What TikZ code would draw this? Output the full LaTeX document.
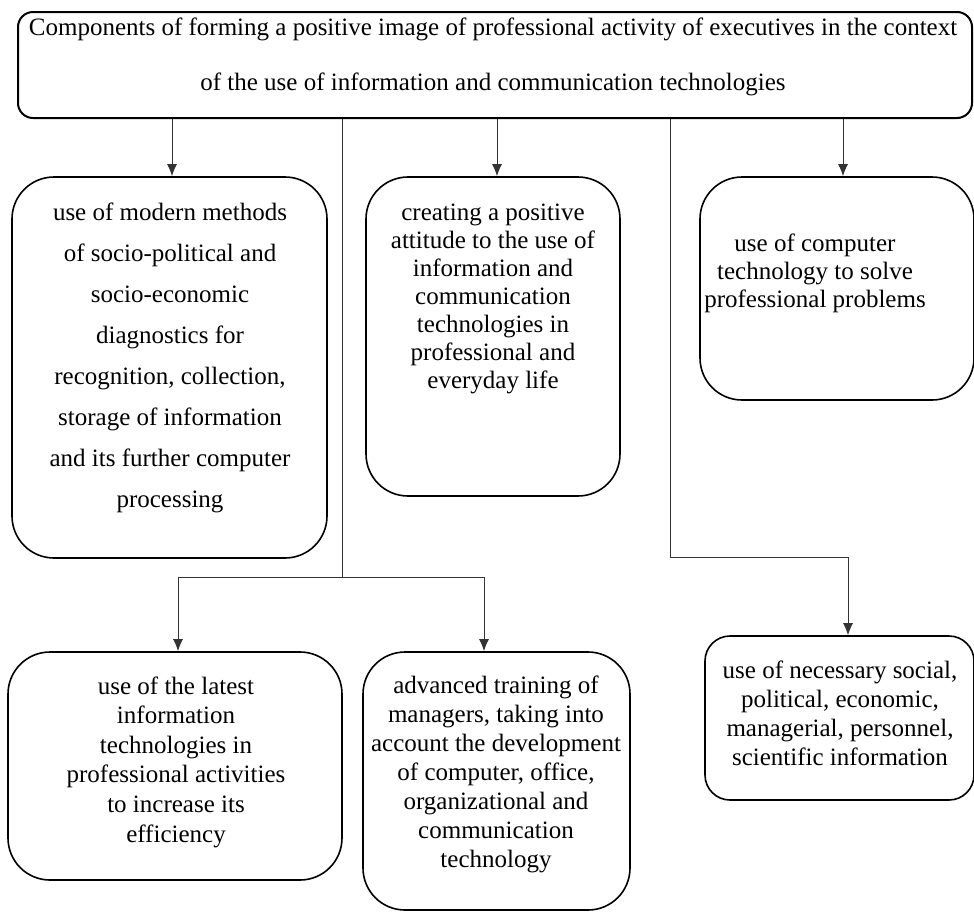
\documentclass[tikz,border=0pt]{standalone}
\usepackage{fontspec}
\setmainfont{Liberation Serif}
\usetikzlibrary{arrows.meta}

\begin{document}
\begin{tikzpicture}[x=1pt, y=-1pt,
	card/.style={draw, line width=1.6pt, rounded corners=42pt, inner sep=0pt},
	txt/.style={align=center, font=\fontsize{25}{29}\selectfont},
	link/.style={draw=black!80, line width=1pt},
	arr/.style={draw=black!80, line width=1pt, -{Latex[length=12pt,width=10pt]}}]
	\useasboundingbox (0,0) rectangle (974,911);
	% header
	\node[card, line width=2pt, rounded corners=15pt, minimum width=954, minimum height=106] (title) at (495,65) {};
	\node[txt, font=\fontsize{25}{55}\selectfont] (titleT) at (493,57) {Components of forming a positive image of professional activity of executives in the context\\of the use of information and communication technologies};
	% first row
	\node[card, minimum width=315, minimum height=381] (modern) at (169.5,367.5) {};
	\node[txt, font=\fontsize{25}{41}\selectfont] (modernT) at (170,358) {use of modern methods\\of socio-political and\\socio-economic\\diagnostics for\\recognition, collection,\\storage of information\\and its further computer\\processing};
	\node[card, minimum width=254, minimum height=319] (attitude) at (493,336.5) {};
	\node[txt, font=\fontsize{25}{28}\selectfont] (attitudeT) at (493,299) {creating a positive\\attitude to the use of\\information and\\communication\\technologies in\\professional and\\everyday life};
	\node[card, minimum width=274, minimum height=223] (computer) at (837,288.5) {};
	\node[txt, font=\fontsize{25}{28}\selectfont] (computerT) at (815,273) {use of computer\\technology to solve\\professional problems};
	% second row
	\node[card, minimum width=334, minimum height=228] (latest) at (175,766) {};
	\node[txt, font=\fontsize{25}{29.6}\selectfont] (latestT) at (176,762) {use of the latest\\information\\technologies in\\professional activities\\to increase its\\efficiency};
	\node[card, minimum width=267, minimum height=258] (advanced) at (496.5,781) {};
	\node[txt] (advancedT) at (496,774) {advanced training of\\managers, taking into\\account the development\\of computer, office,\\organizational and\\communication\\technology};
	\node[card, rounded corners=25pt, minimum width=269, minimum height=164] (necessary) at (839.5,718) {};
	\node[txt] (necessaryT) at (840,713) {use of necessary social,\\political, economic,\\managerial, personnel,\\scientific information};
	% connectors
	\draw[arr] (title.south -| 172,0) -- (172,0 |- modern.north);
	\draw[arr] (title.south -| 497,0) -- (497,0 |- attitude.north);
	\draw[arr] (title.south -| 843,0) -- (843,0 |- computer.north);
	\coordinate (splitL) at (342,577);
	\coordinate (splitR) at (670,557);
	\draw[link] (title.south -| splitL) -- (splitL);
	\draw[arr] (splitL) -| (178,0 |- latest.north);
	\draw[arr] (splitL) -| (484,0 |- advanced.north);
	\draw[arr] (title.south -| splitR) -- (splitR) -| (848,0 |- necessary.north);
\end{tikzpicture}
\end{document}
